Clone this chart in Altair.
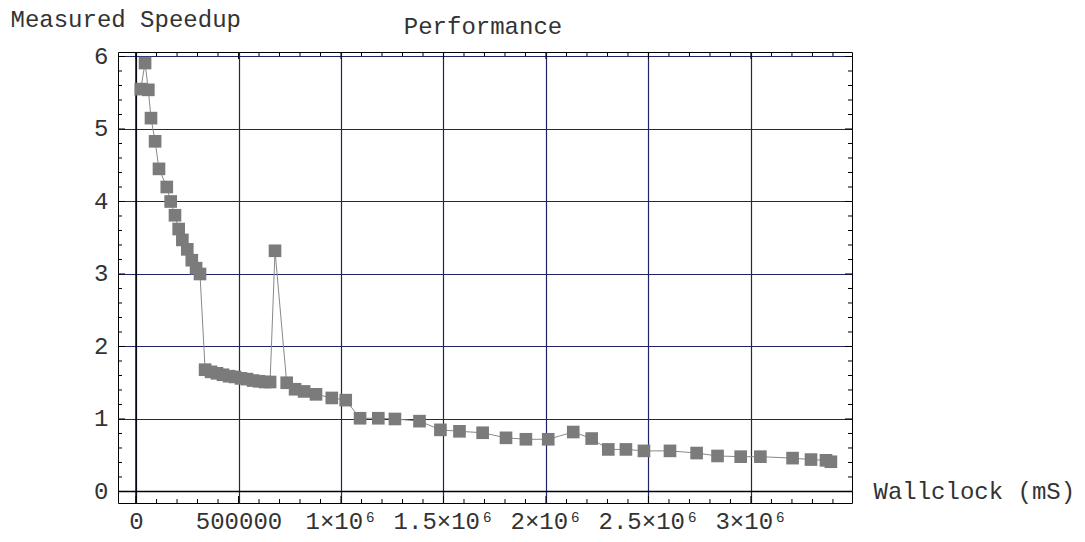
import altair as alt
import pandas as pd
import numpy as np

# ---- data ----
wallclock = [23000, 44000, 60000, 73000, 93000, 112000, 150000, 169000, 190000, 208000,
             226000, 250000, 272000, 293000, 312000,
             337000, 366000, 395000, 424000, 454000, 483000, 512000, 541000, 571000, 600000,
             629000, 654000, 678000,
             735000, 776000, 820000, 878000, 955000, 1023000, 1093000, 1182000, 1263000, 1383000,
             1485000, 1578000, 1691000, 1805000, 1902000, 2011000, 2133000, 2223000, 2304000,
             2390000, 2478000, 2605000, 2735000, 2837000, 2950000, 3046000, 3203000, 3293000,
             3366000, 3390000]
speedup = [5.55, 5.91, 5.54, 5.15, 4.83, 4.45, 4.20, 4.00, 3.81, 3.62,
           3.47, 3.34, 3.19, 3.08, 3.00,
           1.68, 1.65, 1.63, 1.61, 1.59, 1.58, 1.56, 1.55, 1.53, 1.52,
           1.51, 1.51, 3.32,
           1.50, 1.41, 1.38, 1.34, 1.29, 1.26, 1.01, 1.01, 1.00, 0.97,
           0.85, 0.83, 0.81, 0.74, 0.72, 0.72, 0.82, 0.73, 0.58,
           0.58, 0.56, 0.56, 0.53, 0.49, 0.48, 0.48, 0.46, 0.44,
           0.43, 0.41]

x_tick_values = [0, 500000, 1000000, 1500000, 2000000, 2500000, 3000000]
x_tick_labels = ["0", "500000", "1×10⁶", "1.5×10⁶", "2×10⁶", "2.5×10⁶", "3×10⁶"]
y_tick_values = [0, 1, 2, 3, 4, 5, 6]
y_tick_labels = ["0", "1", "2", "3", "4", "5", "6"]
x_minor_ticks = [v for v in range(0, 3500000, 100000) if v % 500000 != 0]
y_minor_ticks = [round(v, 1) for v in np.arange(0.0, 6.01, 0.2) if abs(v - round(v)) > 1e-6]

x_domain = [-88000, 3493000]
y_domain = [-0.159, 6.062]

W, H = 734, 451
FONT = "Liberation Mono"
FS = 24
GRID = "#222266"
TXT = "#333333"

df = pd.DataFrame({"wallclock": wallclock, "speedup": speedup})
xs = alt.Scale(domain=x_domain, nice=False, zero=False)
ys = alt.Scale(domain=y_domain, nice=False, zero=False)


def label_expr(values, labels):
    expr = "''"
    for v, l in reversed(list(zip(values, labels))):
        expr = f"datum.value == {v} ? '{l}' : ({expr})"
    return expr


x_axis = alt.Axis(values=x_tick_values, labelExpr=label_expr(x_tick_values, x_tick_labels),
                  grid=True, gridColor=GRID, gridWidth=1.2, gridOpacity=1,
                  ticks=False, tickSize=0, domain=False,
                  labelFont=FONT, labelFontSize=FS, labelColor=TXT, labelPadding=6,
                  labelFlush=False, labelOverlap=False,
                  title="Wallclock (mS)", titleFont=FONT, titleFontSize=FS,
                  titleFontWeight="normal", titleColor=TXT, titleAlign="left",
                  titleAngle=0, titleBaseline="middle", titleX=755, titleY=-12)
y_axis = alt.Axis(values=y_tick_values, labelExpr=label_expr(y_tick_values, y_tick_labels),
                  grid=True, gridColor=GRID, gridWidth=1.2, gridOpacity=1,
                  ticks=False, tickSize=0, domain=False,
                  labelFont=FONT, labelFontSize=FS, labelColor=TXT, labelPadding=10,
                  labelFlush=False, labelOverlap=False,
                  title="Measured Speedup", titleFont=FONT, titleFontSize=FS,
                  titleFontWeight="normal", titleColor=TXT, titleAlign="left",
                  titleAngle=0, titleBaseline="middle", titleX=-108, titleY=-33)


def X(field):
    return alt.X(field, scale=xs, axis=x_axis)


def Y(field):
    return alt.Y(field, scale=ys, axis=y_axis)


base = alt.Chart(df)
line = base.mark_line(color="#888888", strokeWidth=1).encode(
    x=X("wallclock:Q"), y=Y("speedup:Q"), order=alt.Order("wallclock:Q"))
points = base.mark_point(shape="square", filled=True, size=160, color="#7b7b7b", opacity=1).encode(
    x=X("wallclock:Q"), y=Y("speedup:Q"))

zero_df = pd.DataFrame({"v": [0]})
x0_rule = alt.Chart(zero_df).mark_rule(color="black", strokeWidth=1.5).encode(x=X("v:Q"))
y0_rule = alt.Chart(zero_df).mark_rule(color="black", strokeWidth=1.5).encode(y=Y("v:Q"))


def xticks(values, length):
    d = alt.Chart(pd.DataFrame({"v": values}))
    bottom = d.mark_rule(color="black", strokeWidth=1).encode(
        x=X("v:Q"), y=alt.value(H), y2=alt.value(H - length))
    top = d.mark_rule(color="black", strokeWidth=1).encode(
        x=X("v:Q"), y=alt.value(0), y2=alt.value(length))
    return [bottom, top]


def yticks(values, length):
    d = alt.Chart(pd.DataFrame({"v": values}))
    left = d.mark_rule(color="black", strokeWidth=1).encode(
        y=Y("v:Q"), x=alt.value(0), x2=alt.value(length))
    right = d.mark_rule(color="black", strokeWidth=1).encode(
        y=Y("v:Q"), x=alt.value(W), x2=alt.value(W - length))
    return [left, right]


title = alt.Chart(pd.DataFrame({"t": ["Performance"]})).mark_text(
    font=FONT, fontSize=FS, color=TXT, align="center", baseline="middle").encode(
    text="t:N", x=alt.value(W / 2 - 2), y=alt.value(-25))

layers = [line, x0_rule, y0_rule] + xticks(x_minor_ticks, 4) + xticks(x_tick_values, 7) \
    + yticks(y_minor_ticks, 4) + yticks(y_tick_values, 7) + [points, title]

chart = alt.layer(*layers).properties(
    width=W, height=H,
    autosize=alt.AutoSizeParams(type="none"),
    padding={"left": 110, "top": 44, "right": 225, "bottom": 31},
    background="white",
).configure_view(stroke="black", strokeWidth=1)

chart.save("out.html", embed_options={"renderer": "svg", "actions": False})
